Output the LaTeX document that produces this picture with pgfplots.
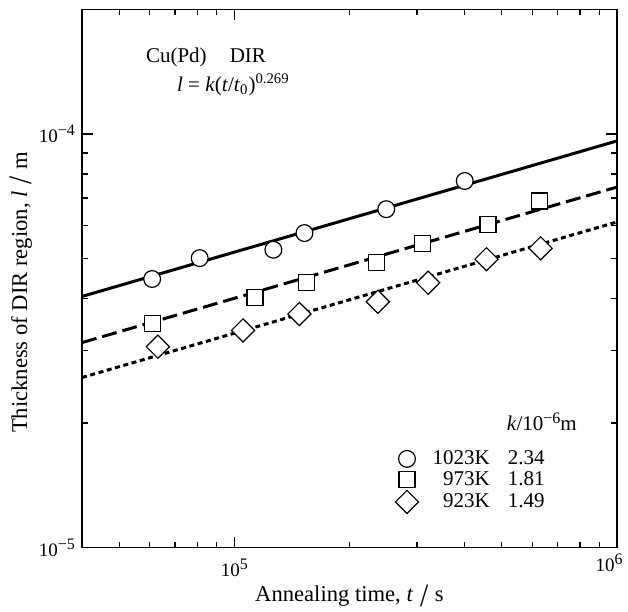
\documentclass[border=0pt]{standalone}
\usepackage{fontspec}
\setmainfont{Liberation Serif}
\usepackage{graphicx}
\usepackage{pgfplots}
\pgfplotsset{compat=1.18}

% measured points, 1px of the reference = 0.5pt here
\pgfplotstableread{
t       l
61000   4.46e-5
81200   5.01e-5
126500  5.25e-5
152500  5.76e-5
249500  6.58e-5
400000  7.70e-5
}\tK

\newcommand{\bigslash}{\hspace{0.3em}\raisebox{-0.2em}{\scalebox{1.3}[1.45]{/}}\hspace{0.3em}}
\newcommand{\tsup}[1]{\raisebox{3.5pt}{\fontsize{8}{9}\selectfont #1}}

\begin{document}
\begin{tikzpicture}
\begin{axis}[
  name=ax,
  xmode=log, ymode=log,
  width=267.5pt, height=269pt, scale only axis,
  xmin=4e4, xmax=1e6, ymin=1e-5, ymax=2e-4,
  axis line style={line width=0.75pt},
  xtick={1e5}, xticklabels={10\tsup{5}},
  extra x ticks={1e6}, extra x tick labels={10\tsup{6}},
  extra x tick style={xticklabel style={xshift=-4pt, inner sep=1pt}},
  ytick={1e-5,1e-4}, yticklabels={10\tsup{−5},10\tsup{−4}},
  minor xtick={5e4,6e4,7e4,8e4,9e4,2e5,3e5,4e5,5e5,6e5,7e5,8e5,9e5},
  minor ytick={2e-5,3e-5,4e-5,5e-5,6e-5,7e-5,8e-5,9e-5},
  tick align=inside,
  major tick length=5.5pt, minor tick length=3pt,
  every tick/.style={black, line width=0.6pt},
  tick label style={font=\fontsize{9.5}{11}\selectfont},
  xticklabel style={yshift=-2pt},
  legend style={at={(rel axis cs:0.585,0.185)}, anchor=north west,
    draw=none, fill=none, inner sep=0pt, row sep=0pt,
    font=\fontsize{10.5}{12}\selectfont,
    nodes={inner sep=1pt, text height=7pt, text depth=1.5pt}},
  legend cell align=left,
]
  % fitted lines l = k (t/t0)^0.269
  \addplot[forget plot, black, line width=1.5pt]
    coordinates {(4e4,4.0475e-5) (1e6,9.622e-5)};
  \addplot[forget plot, black, line width=1.5pt, dash pattern=on 7.5pt off 3pt]
    coordinates {(4e4,3.1308e-5) (1e6,7.443e-5)};
  \addplot[forget plot, black, line width=1.5pt, dash pattern=on 2.5pt off 1.8pt]
    coordinates {(4e4,2.5773e-5) (1e6,6.127e-5)};

  % 1023K
  \addplot[only marks, mark=*, mark size=4.2pt,
    mark options={fill=white, draw=black, line width=0.6pt}]
    table[x=t, y=l] {\tK};
  % 973K
  \addplot[only marks, mark=square*, mark size=4pt,
    mark options={fill=white, draw=black, line width=0.6pt}]
    coordinates {(61000,3.48e-5) (113200,4.03e-5) (154600,4.37e-5)
      (234900,4.89e-5) (310500,5.44e-5) (460300,6.03e-5) (628700,6.89e-5)};
  % 923K
  \addplot[only marks, mark=square*, mark size=4.1pt,
    mark options={rotate=45, fill=white, draw=black, line width=0.6pt}]
    coordinates {(63150,3.06e-5) (105400,3.35e-5) (148000,3.67e-5)
      (237200,3.93e-5) (321000,4.37e-5) (456000,4.98e-5) (631500,5.29e-5)};

  \legend{\hspace{6pt}1023K\hspace{9pt}2.34,
    \hspace{6pt}\phantom{1023K}\llap{973K}\hspace{9pt}1.81,
    \hspace{6pt}\phantom{1023K}\llap{923K}\hspace{9pt}1.49}

  \node[anchor=base west, font=\fontsize{10.5}{12}\selectfont]
    at (rel axis cs:0.1065,0.902) {Cu(Pd)\hspace{1.1em}DIR};
  \node[anchor=base west, font=\fontsize{10.5}{12}\selectfont]
    at (rel axis cs:0.1645,0.848)
    {\textit{l} = \textit{k}(\textit{t}/\textit{t}\textsubscript{0})\textsuperscript{0.269}};
  \node[anchor=base west, font=\fontsize{10.5}{12}\selectfont]
    at (rel axis cs:0.781,0.2175) {\textit{k}/10\tsup{−6}m};

  \coordinate (yl) at (rel axis cs:0,0.5);
  \coordinate (xl) at (rel axis cs:0.5,0);
  \coordinate (bl) at (rel axis cs:0,0);
  \coordinate (tr) at (rel axis cs:1,1);
\end{axis}
\node[rotate=90, font=\fontsize{11.3}{13}\selectfont]
  at ([xshift=-30.5pt,yshift=-7pt]yl) {Thickness of DIR region, \textit{l}\bigslash m};
\node[font=\fontsize{11.3}{13}\selectfont, inner sep=1pt]
  at ([yshift=-24pt]xl) {Annealing time, \textit{t}\bigslash s};
\pgfresetboundingbox
\path ([shift={(-41pt,-32pt)}]bl) rectangle ([shift={(5.5pt,4.75pt)}]tr);
\end{tikzpicture}
\end{document}
